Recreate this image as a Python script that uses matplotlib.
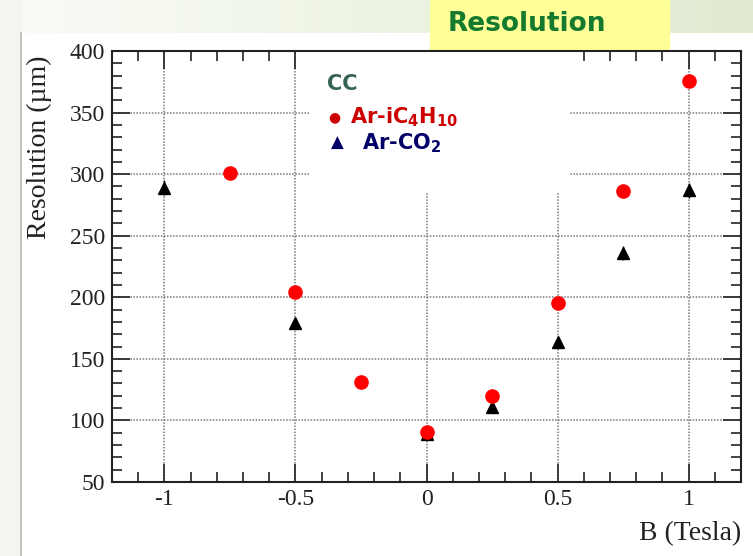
import numpy as np
import matplotlib
matplotlib.use("Agg")
import matplotlib.pyplot as plt
from matplotlib.patches import Rectangle
from matplotlib.ticker import MultipleLocator

plt.rcParams["mathtext.default"] = "bf"

# Donnees --------------------------------------------------------------------
b_iso = [-0.75, -0.5, -0.25, 0.0, 0.25, 0.5, 0.75, 1.0]
res_iso = [301, 204, 131, 91, 120, 195, 286, 376]
err_iso = [3, 3, 3, 3, 3, 3, 3, 4]

b_co2 = [-1.0, -0.5, 0.0, 0.25, 0.5, 0.75, 1.0]
res_co2 = [289, 179, 89, 111, 164, 236, 287]
err_co2 = [6, 4, 3, 4, 4, 6, 6]

x_ticks = [-1, -0.5, 0, 0.5, 1]
x_labels = ["-1", "-0.5", "0", "0.5", "1"]
y_ticks = [50, 100, 150, 200, 250, 300, 350, 400]

W, H = 753, 556
fig = plt.figure(figsize=(W / 100, H / 100), dpi=100)

# Fond de la diapo -----------------------------------------------------------
bg = fig.add_axes([0, 0, 1, 1])
bg.set_xlim(0, W); bg.set_ylim(H, 0); bg.axis("off")
gx = np.linspace(0, 1, 200)
grad = np.array([[1.0 - 0.9 * v for v in gx]])
bg.imshow(np.dstack([0.87 + 0.11 * grad, 0.91 + 0.08 * grad, 0.80 + 0.17 * grad]),
          extent=[0, W, H, 0], aspect="auto", zorder=0)
bg.add_patch(Rectangle((0, 0), 21, H, color="#f4f4f0", zorder=1))
bg.add_patch(Rectangle((21, 33), W - 21, H - 33, facecolor="white",
                       edgecolor="none", zorder=1))
bg.plot([21, 21], [33, H], color="#b8b8b8", lw=1.2, zorder=2)
bg.add_patch(Rectangle((430, 0), 239, 50, color="#ffff99", zorder=3))
bg.text(527, 24, "Resolution", color="#137a2e", fontsize=19, fontweight="bold",
        family="DejaVu Sans", ha="center", va="center", zorder=4)

# Graphique -----------------------------------------------------------------
ax = fig.add_axes([112 / W, 1 - 482 / H, (741 - 112) / W, (482 - 51) / H])
ax.set_xlim(-1.2, 1.2)
ax.set_ylim(50, 400)
ax.set_facecolor("none")

for v in x_ticks:
    ax.axvline(v, color="#7a7a7a", lw=1.1, ls=(0, (1.0, 1.0)), zorder=1)
for v in y_ticks[1:-1]:
    ax.axhline(v, color="#7a7a7a", lw=1.1, ls=(0, (1.0, 1.0)), zorder=1)

# cadre blanc de la legende qui masque la grille
ax.add_patch(Rectangle((-0.443, 284.6), 0.985, 120, facecolor="white",
                       edgecolor="none", zorder=2))

ax.errorbar(b_co2, res_co2, yerr=err_co2, fmt="^", color="black", ms=8.5,
            elinewidth=1.0, capsize=0, zorder=4)
ax.errorbar(b_iso, res_iso, yerr=err_iso, fmt="o", color="#ff0000", ms=9.5,
            elinewidth=1.0, capsize=0, zorder=5)

ax.set_xticks(x_ticks)
ax.set_xticklabels(x_labels)
ax.set_yticks(y_ticks)
ax.xaxis.set_minor_locator(MultipleLocator(0.1))
ax.yaxis.set_minor_locator(MultipleLocator(10))
ax.tick_params(which="both", direction="in", top=True, right=True,
               labelsize=17, width=1.2, colors="#222222", pad=5)
ax.tick_params(which="major", length=13)
ax.tick_params(which="minor", length=7)
for lab in ax.get_xticklabels() + ax.get_yticklabels():
    lab.set_family("Liberation Serif")
for s in ax.spines.values():
    s.set_linewidth(1.5)
    s.set_color("#222222")

ax.set_ylabel("Resolution (\u00b5m)", family="Liberation Serif", fontsize=20,
              loc="top", color="#222222")
ax.yaxis.set_label_coords(-0.095, 0.99)
ax.set_xlabel("B (Tesla)", family="Liberation Serif", fontsize=20,
              loc="right", labelpad=8, color="#222222")

# Legende (texte) ------------------------------------------------------------
ax.text(327, 84, "CC", transform=bg.transData, color="#35634f", fontsize=15,
        fontweight="bold", va="center", zorder=6)
ax.text(334, 117, "\u25cf", transform=bg.transData, color="#cc0000",
        fontsize=10, va="center", ha="center", zorder=6)
ax.text(350, 117, "Ar-iC$_4$H$_{10}$", transform=bg.transData, color="#cc0000",
        fontsize=15, fontweight="bold", va="center", zorder=6)
ax.text(337, 143, "\u25b2", transform=bg.transData, color="#000066",
        fontsize=12, va="center", ha="center", zorder=6)
ax.text(362, 143, "Ar-CO$_2$", transform=bg.transData, color="#000066",
        fontsize=15, fontweight="bold", va="center", zorder=6)

fig.savefig("out.png", dpi=100)
